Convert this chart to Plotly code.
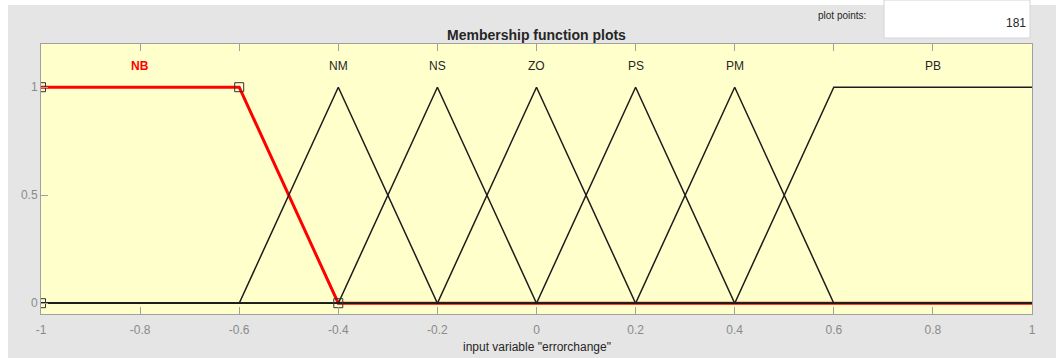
import plotly.graph_objects as go

# Membership functions of the input variable "errorchange" (range -1 .. 1)
mf_names = ["NB", "NM", "NS", "ZO", "PS", "PM", "PB"]
mf_x = [
    [-1.0, -0.6, -0.4, 1.0],
    [-1.0, -0.6, -0.4, -0.2, 1.0],
    [-1.0, -0.4, -0.2, 0.0, 1.0],
    [-1.0, -0.2, 0.0, 0.2, 1.0],
    [-1.0, 0.0, 0.2, 0.4, 1.0],
    [-1.0, 0.2, 0.4, 0.6, 1.0],
    [-1.0, 0.4, 0.6, 1.0],
]
mf_y = [
    [1, 1, 0, 0],
    [0, 0, 1, 0, 0],
    [0, 0, 1, 0, 0],
    [0, 0, 1, 0, 0],
    [0, 0, 1, 0, 0],
    [0, 0, 1, 0, 0],
    [0, 0, 1, 1],
]
label_x = [-0.8, -0.4, -0.2, 0.0, 0.2, 0.4, 0.8]
label_y = 1.1
selected = "NB"

# Parameter vertices of the selected function
vertex_x = [-1.0, -1.0, -0.6, -0.4]
vertex_y = [0, 1, 1, 0]

x_ticks = [-1, -0.8, -0.6, -0.4, -0.2, 0, 0.2, 0.4, 0.6, 0.8, 1]
x_tick_text = ["-1", "-0.8", "-0.6", "-0.4", "-0.2", "0", "0.2", "0.4", "0.6", "0.8", "1"]
y_ticks = [0, 0.5, 1]
y_tick_text = ["0", "0.5", "1"]
plot_points = 181

FONT = "Arial, Liberation Sans, Helvetica, sans-serif"
W, H = 1056, 358
L, R, T, B = 41, 24, 44, 44
PW, PH = W - L - R, H - T - B


def px_x(p):
    return (p - L) / PW


def px_y(p):
    return (H - B - p) / PH


fig = go.Figure()

sel = mf_names.index(selected)
order = [sel] + [i for i in range(len(mf_names)) if i != sel]
for i in order:
    is_sel = i == sel
    fig.add_trace(go.Scatter(
        x=mf_x[i], y=mf_y[i], mode="lines",
        line=dict(color="#ff0000" if is_sel else "#1c1c1c", width=3 if is_sel else 1.5),
        hoverinfo="skip", showlegend=False,
    ))

fig.add_trace(go.Scatter(
    x=vertex_x, y=vertex_y, mode="markers",
    marker=dict(symbol="square-open", size=9, color="#333333", line=dict(width=1)),
    hoverinfo="skip", showlegend=False,
))

annotations = []
for i, name in enumerate(mf_names):
    is_sel = i == sel
    annotations.append(dict(
        x=label_x[i], y=label_y, xref="x", yref="y", showarrow=False,
        text=f"<b>{name}</b>" if is_sel else name,
        font=dict(family=FONT, size=12, color="#ff0000" if is_sel else "#262626"),
    ))

annotations += [
    dict(x=0.5, y=px_y(35), xref="paper", yref="paper", showarrow=False,
         text="<b>Membership function plots</b>", yanchor="middle",
         font=dict(family=FONT, size=14, color="#262626")),
    dict(x=0.5, y=px_y(347), xref="paper", yref="paper", showarrow=False,
         text='input variable "errorchange"', yanchor="middle",
         font=dict(family=FONT, size=12, color="#262626")),
    dict(x=px_x(868), y=px_y(15), xref="paper", yref="paper", showarrow=False,
         text="plot points:", xanchor="right", yanchor="middle",
         font=dict(family=FONT, size=10, color="#262626")),
    dict(x=px_x(1028), y=px_y(23), xref="paper", yref="paper", showarrow=False,
         text=str(plot_points), xanchor="right", yanchor="middle",
         font=dict(family=FONT, size=12, color="#262626")),
]

shapes = [
    # white window margins
    dict(type="rect", xref="paper", yref="paper", layer="below",
         x0=px_x(0), x1=px_x(8), y0=px_y(H), y1=px_y(0),
         fillcolor="white", line=dict(width=0)),
    dict(type="rect", xref="paper", yref="paper", layer="below",
         x0=px_x(0), x1=px_x(W), y0=px_y(5), y1=px_y(0),
         fillcolor="white", line=dict(width=0)),
    # plot points edit box
    dict(type="rect", xref="paper", yref="paper", layer="below",
         x0=px_x(884), x1=px_x(1030), y0=px_y(38), y1=px_y(0),
         fillcolor="white", line=dict(width=1, color="#d4d4d4")),
]

axis_common = dict(
    showline=True, linecolor="#a0a0a0", linewidth=1,
    ticks="inside", ticklen=7, tickcolor="#a0a0a0", tickwidth=1,
    showgrid=False, zeroline=False, fixedrange=True,
    tickfont=dict(family=FONT, size=12, color="#8a8a8a"),
)

fig.update_layout(
    width=W, height=H,
    margin=dict(l=L, r=R, t=T, b=B, pad=0),
    paper_bgcolor="#e5e5e5",
    plot_bgcolor="#ffffcc",
    showlegend=False,
    xaxis=dict(range=[-1, 1], tickmode="array", tickvals=x_ticks, ticktext=x_tick_text,
               mirror="ticks", ticklabelstandoff=5, **axis_common),
    yaxis=dict(range=[-0.05, 1.2], tickmode="array", tickvals=y_ticks, ticktext=y_tick_text,
               mirror=True, **axis_common),
    annotations=annotations,
    shapes=shapes,
)

fig.write_html("out.html", config={"displayModeBar": False})
